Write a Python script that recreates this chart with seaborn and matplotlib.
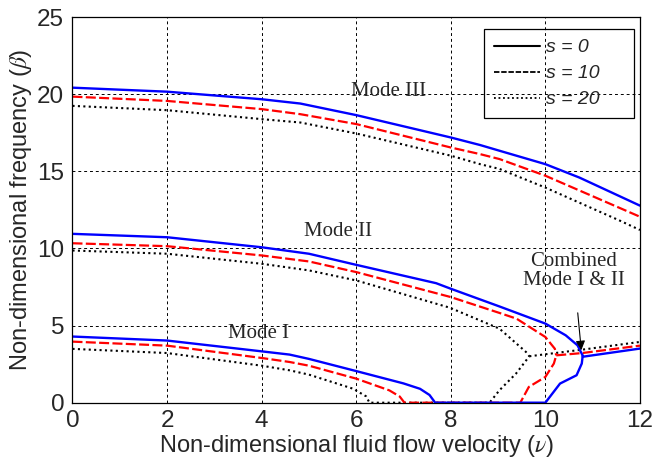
import matplotlib
matplotlib.use("Agg")
import matplotlib.pyplot as plt
from matplotlib.lines import Line2D
import seaborn as sns

# s = 0 (blue, solid)
s0_mode3_v = [0, 2, 4, 4.82, 6, 8, 8.62, 9.03, 10, 10.72, 12]
s0_mode3_b = [20.43, 20.17, 19.68, 19.4, 18.65, 17.2, 16.71, 16.34, 15.47, 14.6, 12.78]
s0_mode2_v = [0, 2, 4, 5, 6, 7.69, 8, 9.03, 10, 10.43, 10.68, 10.79]
s0_mode2_b = [10.95, 10.73, 10.08, 9.66, 8.94, 7.75, 7.39, 6.24, 5.13, 4.37, 3.72, 3.05]
s0_mode1_v = [0, 2, 4, 4.59, 5, 6, 7.0, 7.35, 7.55, 7.67, 10.0, 10.31, 10.66, 10.77, 10.79]
s0_mode1_b = [4.29, 4.03, 3.33, 3.12, 2.84, 2.05, 1.25, 0.9, 0.5, 0, 0, 1.24, 1.78, 2.54, 3.05]
s0_comb_v = [10.79, 12]
s0_comb_b = [2.98, 3.51]

# s = 10 (red, dashed)
s10_mode3_v = [0, 2, 4, 4.82, 6, 8, 8.62, 9.03, 10, 12]
s10_mode3_b = [19.85, 19.57, 19.04, 18.71, 18.07, 16.55, 16.12, 15.8, 14.72, 12.06]
s10_mode2_v = [0, 2, 4, 5, 6, 8, 9.04, 9.39, 10, 10.2, 10.23]
s10_mode2_b = [10.34, 10.15, 9.55, 9.16, 8.47, 6.85, 5.81, 5.45, 4.26, 3.5, 3.07]
s10_mode1_v = [0, 2, 4, 4.59, 5, 6, 6.7, 6.92, 7.02, 9.47, 9.65, 10, 10.18, 10.23]
s10_mode1_b = [3.96, 3.7, 2.9, 2.64, 2.4, 1.56, 0.8, 0.4, 0, 0, 1.02, 1.67, 2.54, 3.07]
s10_comb_v = [10.23, 10.78, 12]
s10_comb_b = [3.07, 3.22, 3.7]

# s = 20 (black, dotted)
s20_mode3_v = [0, 2, 4, 4.82, 6, 8, 8.62, 9.03, 10, 11.58, 12]
s20_mode3_b = [19.25, 18.97, 18.39, 18.17, 17.46, 16.02, 15.47, 15.16, 13.95, 11.8, 11.2]
s20_mode2_v = [0, 2, 4, 5, 6, 7.98, 9.03, 9.59, 9.66]
s20_mode2_b = [9.87, 9.66, 9.01, 8.58, 7.93, 6.16, 4.8, 3.29, 3.01]
s20_mode1_v = [0, 2, 4, 4.59, 5, 5.93, 6.21, 6.28, 8.82, 9.03, 9.38, 9.66]
s20_mode1_b = [3.49, 3.22, 2.4, 2.1, 1.82, 0.91, 0.41, 0, 0, 0.81, 1.89, 3.01]
s20_comb_v = [9.66, 10.78, 12]
s20_comb_b = [3.01, 3.44, 3.94]

legend_labels = ["s = 0", "s = 10", "s = 20"]

sns.set_style("white")
plt.rcParams["font.family"] = ["Liberation Sans", "DejaVu Sans"]
plt.rcParams["mathtext.fontset"] = "stix"

fig = plt.figure(figsize=(6.53, 4.65), dpi=100)
ax = fig.add_axes([0.111, 0.134, 0.869, 0.829])

styles = [
    ("black", (0, (1, 1.6)), 1.5,
     [(s20_mode3_v, s20_mode3_b), (s20_mode2_v, s20_mode2_b), (s20_mode1_v, s20_mode1_b), (s20_comb_v, s20_comb_b)]),
    ("red", (0, (4.5, 1.5)), 1.6,
     [(s10_mode3_v, s10_mode3_b), (s10_mode2_v, s10_mode2_b), (s10_mode1_v, s10_mode1_b), (s10_comb_v, s10_comb_b)]),
    ("blue", "-", 1.7,
     [(s0_mode3_v, s0_mode3_b), (s0_mode2_v, s0_mode2_b), (s0_mode1_v, s0_mode1_b), (s0_comb_v, s0_comb_b)]),
]
for color, ls, lw, curves in styles:
    for v, b in curves:
        sns.lineplot(x=v, y=b, ax=ax, sort=False, estimator=None, color=color,
                     linestyle=ls, linewidth=lw)

ax.set_xlim(0, 12)
ax.set_ylim(0, 25)
ax.set_xticks(range(0, 13, 2))
ax.set_yticks(range(0, 26, 5))
ax.tick_params(direction="in", length=4, labelsize=17.5, color="black")
ax.tick_params(axis="x", pad=5)
ax.tick_params(axis="y", pad=6)
ax.grid(True, color="black", linestyle=(0, (3, 3)), linewidth=0.7)
ax.set_axisbelow(True)
for sp in ax.spines.values():
    sp.set_color("black")
    sp.set_linewidth(0.9)

ax.set_xlabel(r"Non-dimensional fluid flow velocity ($\nu$)", fontsize=17, labelpad=1)
ax.set_ylabel(r"Non-dimensional frequency ($\beta$)", fontsize=17, labelpad=2)

serif = ["Liberation Serif", "DejaVu Serif"]
ax.text(6.68, 20.17, "Mode III", family=serif, fontsize=15, ha="center", va="center")
ax.text(5.62, 11.13, "Mode II", family=serif, fontsize=15, ha="center", va="center")
ax.text(3.94, 4.5, "Mode I", family=serif, fontsize=15, ha="center", va="center")
ax.annotate("Combined\nMode I & II", xy=(10.76, 3.4), xytext=(10.6, 8.55),
            family=serif, fontsize=15, ha="center", va="center", linespacing=1.05,
            arrowprops=dict(arrowstyle="-|>", color="black", lw=0.8,
                            shrinkA=14, shrinkB=0, mutation_scale=14))

handles = [
    Line2D([], [], color="black", linestyle="-", linewidth=1.5),
    Line2D([], [], color="black", linestyle=(0, (3, 1)), linewidth=1.3),
    Line2D([], [], color="black", linestyle=(0, (1, 1.5)), linewidth=1.3),
]
leg = ax.legend(handles, legend_labels, loc="upper left", bbox_to_anchor=(0.725, 0.735, 0.265, 0.234),
                mode="expand", borderaxespad=0,
                prop={"family": ["Liberation Sans"], "style": "italic", "size": 14},
                frameon=True, fancybox=False, framealpha=1, facecolor="none", edgecolor="black",
                handlelength=2.4, handletextpad=0.3, labelspacing=0.43, borderpad=0.5)
leg.get_frame().set_linewidth(0.9)

fig.savefig("out.png", dpi=100)
